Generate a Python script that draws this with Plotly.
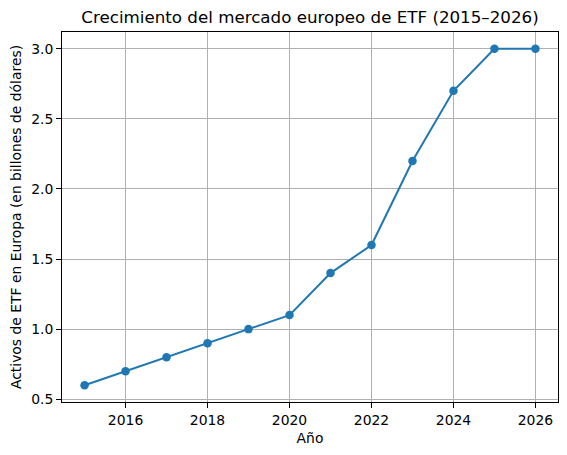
import plotly.graph_objects as go

# European ETF market growth
years = [2015, 2016, 2017, 2018, 2019, 2020, 2021, 2022, 2023, 2024, 2025, 2026]
assets = [0.6, 0.7, 0.8, 0.9, 1.0, 1.1, 1.4, 1.6, 2.2, 2.7, 3.0, 3.0]

title = "Crecimiento del mercado europeo de ETF (2015–2026)"
x_label = "Año"
y_label = "Activos de ETF en Europa (en billones de dólares)"

fig = go.Figure()
fig.add_trace(go.Scatter(
    x=years, y=assets, mode="lines+markers",
    line=dict(color="#1f77b4", width=2),
    marker=dict(color="#1f77b4", size=8.5),
))

axis_style = dict(
    showline=True, linecolor="black", linewidth=1, mirror=True,
    showgrid=True, gridcolor="#b0b0b0", gridwidth=1,
    ticks="outside", ticklen=5, tickcolor="black", tickwidth=1,
    zeroline=False, tickfont=dict(size=13.9, color="black"),
    automargin=False,
)

# page body has an 8px margin, so the figure is a bit smaller
fig.update_layout(
    width=559, height=447,
    margin=dict(l=54, r=9, t=24, b=53),
    paper_bgcolor="white", plot_bgcolor="white",
    font=dict(family="DejaVu Sans", color="black"),
    showlegend=False,
    title=dict(text=title, x=0.5, xref="paper", xanchor="center",
               y=1 - 9 / 447, yref="container", yanchor="middle",
               font=dict(size=16.7)),
)
fig.update_xaxes(axis_style, range=[2014.45, 2026.55], dtick=2, tick0=2016,
                 title=dict(text=x_label, font=dict(size=13.9), standoff=6))
fig.update_yaxes(axis_style, range=[0.48, 3.12], dtick=0.5, tickformat=".1f",
                 title=dict(text=y_label, font=dict(size=13.9), standoff=6))

fig.write_html("out.html")
